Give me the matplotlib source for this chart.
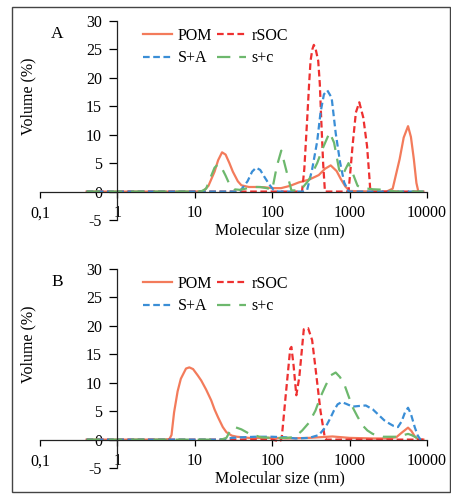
import matplotlib.pyplot as plt
from matplotlib.patches import Rectangle

plt.rcParams['font.family'] = ['Liberation Serif', 'DejaVu Serif']
plt.rcParams['axes.unicode_minus'] = False

# panel A data (size in nm, volume in %)
pom_a_x = [0.4, 1, 5, 10, 13, 15, 18, 20, 22.5, 25, 28, 31, 36, 40, 50, 65, 80, 100, 130, 170, 220,
           300, 400, 480, 570, 680, 770, 880, 1000, 2000, 3000, 3600, 4430, 5000, 5690, 6200, 6760,
           7300, 7730, 9000]
pom_a_y = [0, 0, 0, 0, 0.1, 1.0, 3.5, 5.5, 6.9, 6.5, 5.0, 3.5, 1.8, 1.1, 0.8, 0.8, 0.75, 0.6, 0.6,
           1.0, 1.6, 2.1, 2.9, 4.0, 4.6, 3.6, 2.2, 0.9, 0.1, 0, 0, 0.5, 5.7, 9.5, 11.5, 9.6, 5.7,
           1.5, 0, 0]

rsoc_a_x = [0.4, 200, 243, 260, 283, 300, 313, 330, 345, 365, 393, 412, 430, 455, 480, 900, 968,
            1030, 1091, 1205, 1334, 1503, 1680, 1780, 1855, 9000]
rsoc_a_y = [0, 0, 0, 4, 12.7, 19, 23, 25, 25.8, 25, 23, 19, 12.7, 5, 0, 0, 0,
            4, 8, 13.9, 15.7, 13, 8, 3.5, 0, 0]

sa_a_x = [0.4, 38, 48, 55, 62, 70, 80, 92, 104, 120, 250, 283, 328, 381, 421, 466, 515, 586, 661,
          754, 851, 968, 9000]
sa_a_y = [0, 0, 1.8, 3.5, 4.2, 3.8, 2.5, 1.2, 0.3, 0, 0, 0.3, 3.9, 8.8, 13.9, 17.1, 17.8, 16.5,
          10.3, 5.1, 1.6, 0, 0]

sc_a_x = [0.4, 12, 14, 16, 18, 20, 22, 25, 28, 32, 38, 45, 55, 70, 85, 100, 115, 131, 147, 177,
          231, 297, 381, 443, 552, 630, 731, 808, 890, 968, 1091, 1268, 1500, 2000, 3000, 3500,
          4000, 9000]
sc_a_y = [0, 0, 0.5, 2.5, 4.2, 4.8, 4.3, 2.8, 1.3, 0.4, 0.3, 0.5, 0.8, 0.8, 0.6, 0.3, 4.5, 7.2,
          4.5, 0.2, 0.2, 2.0, 5.0, 7.4, 10.4, 8.6, 3.9, 2.8, 4.0, 5.0, 3.3, 1.0, 0.6, 0.4, 0.3,
          0.1, 0, 0]

# panel B data
pom_b_x = [0.4, 4, 4.7, 5.0, 5.4, 6.0, 6.6, 7.7, 8.5, 9.5, 10.9, 12.1, 14, 16.3, 18, 20, 23, 25.6,
           30, 35, 50, 100, 150, 300, 600, 1000, 2000, 3000, 4000, 4700, 5690, 6300, 7000, 7730,
           9000]
pom_b_y = [0, 0, 0.1, 0.8, 4.8, 8.5, 10.7, 12.5, 12.7, 12.4, 11.3, 10.4, 8.8, 6.9, 5.3, 3.9, 2.2,
           1.3, 0.7, 0.5, 0.3, 0.3, 0.2, 0.3, 0.55, 0.3, 0.2, 0.2, 0.4, 1.2, 2.1, 1.5, 0.5, 0, 0]

rsoc_b_x = [0.4, 100, 115, 125, 130, 133, 150, 171, 177, 189, 205, 224, 256, 291, 328, 363, 421,
            479, 500, 9000]
rsoc_b_y = [0, 0, -0.2, -0.4, 0, 0.4, 8, 16, 16.3, 13, 7.8, 11, 19.4, 19.6, 17.5, 12.5, 5,
            0.3, 0, 0]

sa_b_x = [0.4, 20, 25, 30, 40, 60, 100, 150, 200, 300, 400, 490, 560, 627, 700, 790, 900, 1093,
          1300, 1620, 2000, 2430, 2800, 3280, 3700, 4210, 4700, 5200, 5690, 6200, 6940, 7600,
          8230, 9000]
sa_b_y = [0, 0, 0.1, 0.3, 0.4, 0.5, 0.5, 0.4, 0.2, 0.3, 0.8, 2.2, 3.7, 5.1, 6.2, 6.6, 6.3, 5.8,
          5.9, 6.0, 5.3, 4.2, 3.4, 2.8, 2.4, 2.2, 3.2, 4.8, 5.6, 4.5, 2.2, 0.7, 0, 0]

sc_b_x = [0.4, 22, 25.6, 28, 31, 33, 40, 51, 73, 100, 150, 181, 210, 244, 300, 362, 420, 490,
          570, 661, 750, 850, 960, 1093, 1270, 1470, 1700, 1990, 2700, 4000, 5000, 5690, 6300,
          7200, 8000, 9000]
sc_b_y = [0, 0, 0.3, 1.3, 2.1, 2.2, 1.8, 1.0, 0.4, 0.3, 0.3, 0.4, 0.8, 1.6, 3.0, 5.1, 7.5, 9.5,
          11.3, 11.8, 11.0, 9.8, 7.8, 5.7, 4.0, 2.5, 1.6, 1.0, 0.5, 0.5, 0.8, 1.0, 0.8, 0.4, 0, 0]

panels = [
    ('A', 0.5556, pom_a_x, pom_a_y, rsoc_a_x, rsoc_a_y, sa_a_x, sa_a_y, sc_a_x, sc_a_y),
    ('B', 0.0545, pom_b_x, pom_b_y, rsoc_b_x, rsoc_b_y, sa_b_x, sa_b_y, sc_b_x, sc_b_y),
]

c_pom = '#F37B5B'
c_rsoc = '#EE3030'
c_sa = '#3A8ED6'
c_sc = '#6DB86D'

fig = plt.figure(figsize=(4.51, 4.95), dpi=100)
fig.patches.append(Rectangle((12 / 451, 3 / 495), 438 / 451, 485 / 495, transform=fig.transFigure,
                             fill=False, edgecolor='#444444', lw=1.0))

for name, bot, px, py, rx, ry, sx, sy, cx, cy in panels:
    ax = fig.add_axes([40 / 451, bot, 387 / 451, 0.402])
    ax.patch.set_alpha(0)
    l1, = ax.plot(px, py, color=c_pom, lw=1.6)
    l2, = ax.plot(rx, ry, color=c_rsoc, lw=1.6, dashes=(3, 1.6))
    l3, = ax.plot(sx, sy, color=c_sa, lw=1.6, dashes=(3, 1.6))
    l4, = ax.plot(cx, cy, color=c_sc, lw=1.6, dashes=(6, 4))
    ax.set_xscale('log')
    ax.set_xlim(0.1, 10000)
    ax.set_ylim(-5, 30)
    ax.spines['top'].set_visible(False)
    ax.spines['right'].set_visible(False)
    ax.spines['left'].set_position(('data', 1))
    ax.spines['bottom'].set_position(('data', 0))
    for s in ('left', 'bottom'):
        ax.spines[s].set_color('#222222')
        ax.spines[s].set_linewidth(0.9)
    ax.set_xticks([0.1, 1, 10, 100, 1000, 10000])
    ax.set_xticklabels(['0,1', '1', '10', '100', '1000', '10000'])
    ax.minorticks_off()
    ax.set_yticks(range(-5, 31, 5))
    ax.tick_params(axis='x', direction='out', length=4, width=0.9, pad=6, labelsize=11.5)
    ax.tick_params(axis='y', direction='out', length=6, width=0.9, pad=5, labelsize=11.5)
    ax.text(0.62, -0.05, 'Molecular size (nm)', transform=ax.transAxes, fontsize=11.5,
            ha='center', va='center')
    ax.text(0.044, 0.935, name, transform=ax.transAxes, fontsize=12.5, ha='center', va='center')
    ax.text(-0.03, 0.62, 'Volume (%)', transform=ax.transAxes, fontsize=11.5, rotation=90,
            ha='center', va='center')
    ax.legend([l1, l3, l2, l4], ['POM', 'S+A', 'rSOC', 's+c'], ncol=2, loc='upper left',
              bbox_to_anchor=(0.266, 0.965), frameon=False, fontsize=11.5, borderpad=0,
              borderaxespad=0, handlelength=1.85, handletextpad=0.35, columnspacing=0.25,
              labelspacing=0.4)

fig.savefig('out.png', dpi=100)
